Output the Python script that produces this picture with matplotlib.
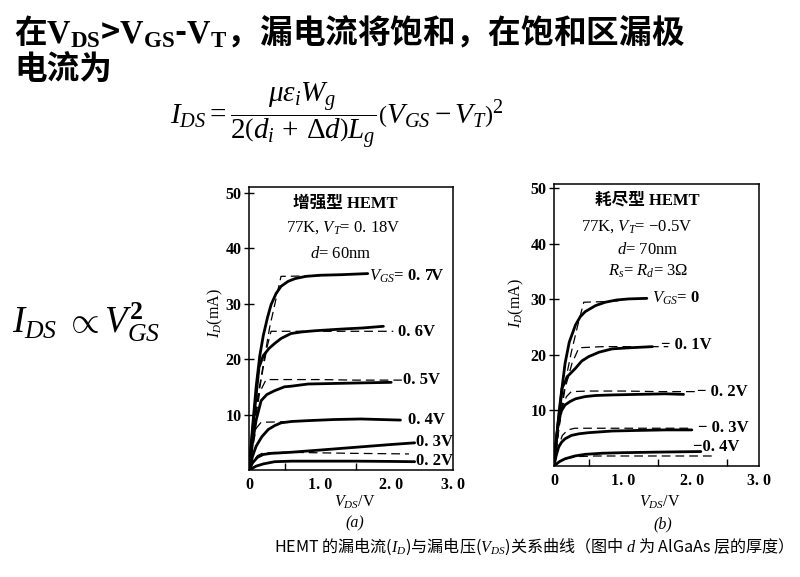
import matplotlib
matplotlib.use("Agg")
import matplotlib.pyplot as plt

plt.rcParams['font.family'] = ['Liberation Serif', 'Noto Sans CJK SC', 'DejaVu Sans']
plt.rcParams['mathtext.fontset'] = 'custom'
plt.rcParams['mathtext.rm'] = 'Liberation Serif'
plt.rcParams['mathtext.it'] = 'Liberation Serif:italic'
plt.rcParams['mathtext.bf'] = 'Liberation Serif:bold'

# ---- (a) enhancement HEMT, VT = 0.18 V ----
a07_v = [0, 0.05, 0.10, 0.15, 0.20, 0.26, 0.31, 0.38, 0.45, 0.55, 0.65, 0.80, 1.00, 1.30, 1.67]
a07_i = [0, 7.8, 15.0, 20.5, 24.2, 27.5, 29.8, 31.8, 33.1, 34.0, 34.5, 34.9, 35.1, 35.2, 35.4]
a07d_v = [0, 0.12, 0.29, 0.45, 1.0]
a07d_i = [0, 13.0, 25.7, 34.9, 35.0]
a06_v = [0, 0.05, 0.10, 0.14, 0.20, 0.28, 0.36, 0.45, 0.59, 0.75, 0.93, 1.3, 1.6, 1.89]
a06_i = [0, 7.0, 13.5, 18.5, 20.6, 21.9, 22.8, 23.7, 24.6, 24.9, 25.1, 25.4, 25.6, 25.9]
a06d_v = [0, 0.10, 0.20, 0.26, 0.31, 2.03]
a06d_i = [0, 11.0, 18.5, 22.5, 25.0, 25.0]
a05_v = [0, 0.05, 0.10, 0.17, 0.25, 0.36, 0.50, 0.59, 0.83, 1.2, 1.57, 2.0]
a05_i = [0, 5.0, 9.0, 12.5, 13.6, 14.3, 15.0, 15.1, 15.5, 15.6, 15.7, 15.8]
a05d_v = [0, 0.08, 0.15, 0.24, 0.5, 1.0, 1.5, 2.15]
a05d_i = [0, 8.5, 14.0, 16.3, 16.3, 16.3, 16.2, 16.2]
a04_v = [0, 0.05, 0.10, 0.18, 0.27, 0.36, 0.45, 0.6, 0.83, 1.2, 1.57, 2.13]
a04_i = [0, 2.5, 4.3, 6.0, 7.3, 8.0, 8.5, 8.75, 8.9, 9.1, 9.2, 9.0]
a04d_v = [0, 0.05, 0.10, 0.17, 0.5]
a04d_i = [0, 4.0, 7.5, 8.6, 8.7]
a03_v = [0, 0.05, 0.12, 0.2, 0.31, 0.59, 1.0, 1.5, 2.0, 2.33]
a03_i = [0, 1.3, 2.3, 2.8, 3.0, 3.2, 3.6, 4.1, 4.6, 4.9]
a03d_v = [0, 0.05, 0.12, 0.2, 0.5, 1.0, 1.5, 2.25]
a03d_i = [0, 1.5, 2.6, 3.1, 3.2, 3.1, 3.0, 2.9]
a02_v = [0, 0.1, 0.2, 0.36, 0.6, 1.0, 1.5, 2.0, 2.33]
a02_i = [0, 0.7, 1.1, 1.5, 1.6, 1.6, 1.6, 1.55, 1.5]

a_labels = [r'$V_{GS}$= 0. 7V', '0. 6V', '0. 5V', '0. 4V', '0. 3V', '0. 2V']
a_label_v = [1.69, 2.09, 2.16, 2.23, 2.35, 2.35]
a_label_i = [34.9, 24.8, 16.3, 9.1, 5.0, 1.6]

# ---- (b) depletion HEMT, VT = -0.5 V ----
b0_v = [0, 0.03, 0.06, 0.09, 0.12, 0.16, 0.22, 0.31, 0.38, 0.45, 0.6, 0.74, 0.9, 1.08, 1.34]
b0_i = [0, 4.0, 7.8, 10.8, 14.5, 18.5, 22.3, 25.4, 26.9, 27.8, 28.9, 29.5, 29.9, 30.1, 30.2]
b0d_v = [0, 0.08, 0.16, 0.25, 0.34, 0.43, 0.7, 1.0]
b0d_i = [0, 7.5, 15.0, 20.5, 25.2, 29.5, 29.6, 29.8]
b1_v = [0, 0.04, 0.08, 0.115, 0.2, 0.31, 0.4, 0.5, 0.65, 0.84, 1.1, 1.42]
b1_i = [0, 5.5, 10.5, 14.0, 16.2, 17.6, 18.9, 19.7, 20.5, 21.1, 21.3, 21.5]
b1d_v = [0, 0.08, 0.16, 0.26, 0.36, 0.7, 1.0, 1.3, 1.65]
b1d_i = [0, 8.0, 14.0, 18.5, 21.3, 21.5, 21.5, 21.5, 21.5]
b2_v = [0, 0.03, 0.067, 0.11, 0.16, 0.23, 0.31, 0.45, 0.6, 0.84, 1.2, 1.61, 1.87]
b2_i = [0, 4.5, 8.2, 10.0, 11.0, 11.6, 12.1, 12.5, 12.7, 12.8, 12.9, 13.0, 12.9]
b2d_v = [0, 0.06, 0.115, 0.18, 0.25, 0.5, 1.0, 1.5, 2.1]
b2d_i = [0, 6.0, 10.5, 12.5, 13.4, 13.5, 13.5, 13.4, 13.4]
b3_v = [0, 0.03, 0.067, 0.11, 0.16, 0.25, 0.36, 0.5, 0.84, 1.2, 1.61, 1.99]
b3_i = [0, 1.8, 3.4, 4.3, 4.9, 5.5, 5.8, 6.0, 6.3, 6.4, 6.5, 6.5]
b3d_v = [0, 0.06, 0.12, 0.2, 0.3, 0.6, 1.0, 1.5, 2.0]
b3d_i = [0, 3.2, 5.5, 6.5, 6.8, 6.8, 6.8, 6.8, 6.8]
b4_v = [0, 0.08, 0.16, 0.3, 0.45, 0.7, 1.0, 1.5, 2.12]
b4_i = [0, 0.8, 1.3, 1.8, 2.1, 2.3, 2.4, 2.5, 2.6]
b4d_v = [0, 0.1, 0.2, 0.35, 0.6, 1.0, 1.5, 2.0, 2.3]
b4d_i = [0, 0.9, 1.4, 1.7, 1.8, 1.8, 1.8, 1.8, 1.8]

b_labels = [r'$V_{GS}$= 0', '− 0. 1V', '− 0. 2V', '− 0. 3V', '−0. 4V']
b_label_v = [1.41, 1.54, 2.07, 2.08, 2.0]
b_label_i = [30.2, 21.8, 13.3, 6.9, 3.5]

y_ticks = [10, 20, 30, 40, 50]
x_ticklabels = ['0', '1. 0', '2. 0', '3. 0']

fig = plt.figure(figsize=(8, 5.77), dpi=100)
ax_a = fig.add_axes([0.3113, 0.1854, 0.255, 0.4905])
ax_b = fig.add_axes([0.6925, 0.1924, 0.2563, 0.4887])

solid_kw = dict(color='black', lw=2.0, solid_capstyle='round')
dash_kw = dict(color='black', lw=0.9, dashes=(7, 4))

for v, i in [(a07_v, a07_i), (a06_v, a06_i), (a05_v, a05_i), (a04_v, a04_i),
             (a03_v, a03_i), (a02_v, a02_i)]:
    ax_a.plot(v, i, **solid_kw)
for v, i in [(a07d_v, a07d_i), (a06d_v, a06d_i), (a05d_v, a05d_i), (a04d_v, a04d_i),
             (a03d_v, a03d_i)]:
    ax_a.plot(v, i, **dash_kw)

for v, i in [(b0_v, b0_i), (b1_v, b1_i), (b2_v, b2_i), (b3_v, b3_i), (b4_v, b4_i)]:
    ax_b.plot(v, i, **solid_kw)
for v, i in [(b0d_v, b0d_i), (b1d_v, b1d_i), (b2d_v, b2d_i), (b3d_v, b3d_i), (b4d_v, b4d_i)]:
    ax_b.plot(v, i, **dash_kw)

lab_font = dict(fontsize=12, fontweight='bold', va='center', ha='left')
for t, x, y in zip(a_labels, a_label_v, a_label_i):
    ax_a.text(x, y, t, **lab_font)
for t, x, y in zip(b_labels, b_label_v, b_label_i):
    ax_b.text(x, y, t, **lab_font)

ax_a.set_xlim(0, 2.87)
ax_a.set_ylim(0, 51.0)
ax_b.set_xlim(0, 2.96)
ax_b.set_ylim(0, 50.8)

for ax, minor in [(ax_a, [0.5, 1.0, 1.5, 2.0]), (ax_b, [0.5, 1.0, 1.5, 2.0, 2.5])]:
    xmax = ax.get_xlim()[1]
    ax.set_xticks([0, 1, 2, xmax])
    ax.set_xticklabels(x_ticklabels)
    ax.set_xticks(minor, minor=True)
    ax.set_yticks(y_ticks)
    ax.tick_params(axis='x', which='major', length=0, pad=5, labelsize=11.5)
    ax.tick_params(axis='x', which='minor', direction='in', length=5, width=1)
    ax.tick_params(axis='y', direction='inout', length=7, width=1, pad=2, labelsize=11.5)
    for lab in ax.get_xticklabels() + ax.get_yticklabels():
        lab.set_fontweight('bold')
    for s in ax.spines.values():
        s.set_linewidth(1.1)
    ax.set_ylabel(r'$I_D$(mA)', fontsize=11.5)
    ax.set_xlabel(r'$V_{DS}$/V', fontsize=11.5)

ax_a.yaxis.set_label_coords(-0.12, 0.555)
ax_b.yaxis.set_label_coords(-0.135, 0.578)
ax_a.xaxis.set_label_coords(0.52, -0.083)
ax_b.xaxis.set_label_coords(0.515, -0.097)
ax_a.text(0.52, -0.187, '(a)', transform=ax_a.transAxes, ha='center', va='center',
          fontsize=11.5, style='italic')
ax_b.text(0.53, -0.206, '(b)', transform=ax_b.transAxes, ha='center', va='center',
          fontsize=11.5, style='italic')

# device notes inside the panels
note_kw = dict(ha='center', va='center', fontsize=12)
ax_a.text(1.36, 48.0, '增强型 HEMT', fontweight='bold', **note_kw)
ax_a.text(1.32, 43.7, r'77K, $V_T$= 0. 18V', **note_kw)
ax_a.text(1.29, 39.0, r'$d$= 60nm', **note_kw)
ax_b.text(1.35, 47.9, '耗尽型 HEMT', fontweight='bold', **note_kw)
ax_b.text(1.20, 43.2, r'77K, $V_T$= −0.5V', **note_kw)
ax_b.text(1.36, 38.9, r'$d$= 70nm', **note_kw)
ax_b.text(1.36, 35.0, r'$R_s$= $R_d$= 3Ω', **note_kw)

# slide text
W, H = 800.0, 577.0
fig.text(14 / W, 1 - 32 / H,
         r'在$\mathbf{V}_\mathbf{DS}$>$\mathbf{V}_\mathbf{GS}$-$\mathbf{V}_\mathbf{T}$，漏电流将饱和，在饱和区漏极',
         family='Noto Sans CJK SC', fontsize=23.5, fontweight='bold', va='center', ha='left')
fig.text(14 / W, 1 - 70 / H, '电流为', family='Noto Sans CJK SC', fontsize=23.5,
         fontweight='bold', va='center', ha='left')
fig.text(170 / W, 1 - 116 / H,
         r'$I_{DS}=\dfrac{\mu\varepsilon_i W_g}{2\left(d_i\,+\,\Delta d\right)L_g}\left(V_{GS}-V_T\right)^2$',
         fontsize=21, va='center', ha='left')
fig.text(12 / W, 1 - 322 / H, r'$I_{DS}\ \propto V_{GS}^{\mathbf{2}}$', fontsize=26.5,
         va='center', ha='left')
fig.text(529 / W, 1 - 547 / H,
         r'HEMT 的漏电流($I_D$)与漏电压($V_{DS}$)关系曲线（图中 $d$ 为 AlGaAs 层的厚度）',
         family='Noto Sans CJK SC', fontsize=11.6, va='center', ha='center')

fig.savefig('out.png', dpi=100, facecolor='white')
